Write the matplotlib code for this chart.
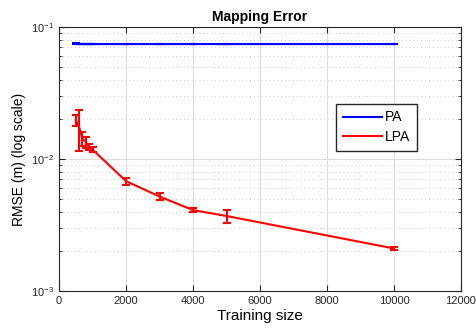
import numpy as np
import matplotlib
matplotlib.use("Agg")
import matplotlib.pyplot as plt
from matplotlib.lines import Line2D

plt.rcParams['font.family'] = ['Liberation Sans', 'DejaVu Sans']

# training sizes and RMSE values
train_size = [500, 600, 700, 800, 900, 1000, 2000, 3000, 4000, 5000, 10000]
pa_rmse = [0.0745, 0.0743, 0.0743, 0.0742, 0.0742, 0.0742, 0.0742, 0.0742, 0.0742, 0.0742, 0.0742]
pa_err = [0.0006, 0.0004, 0.0004, 0.0004, 0.0004, 0.0005, 0.0005, 0.0005, 0.0005, 0.0005, 0.0005]
lpa_rmse = [0.0197, 0.0175, 0.0142, 0.0135, 0.0123, 0.0118, 0.0068, 0.0052, 0.0041, 0.0037, 0.0021]
lpa_err = [0.0018, 0.0060, 0.0017, 0.0013, 0.0007, 0.0005, 0.0004, 0.0003, 0.00015, 0.0004, 0.00006]

fig = plt.figure(figsize=(4.77, 3.29), dpi=100)
ax = fig.add_axes([0.1237, 0.1155, 0.8428, 0.8025])

ax.errorbar(train_size, pa_rmse, yerr=pa_err, color='blue', lw=1.5, capsize=3, elinewidth=1.5, capthick=1.5)
ax.errorbar(train_size, lpa_rmse, yerr=lpa_err, color='red', lw=1.5, capsize=3, elinewidth=1.5, capthick=1.5)

ax.set_yscale('log')
ax.set_xlim(0, 12000)
ax.set_ylim(1e-3, 1e-1)
ax.set_xticks(np.arange(0, 12001, 2000))

ax.grid(True, which='major', color='#dcdcdc', lw=0.8)
ax.grid(True, which='minor', axis='y', color='#c8c8c8', lw=0.7, ls=(0, (1, 3)))
ax.set_axisbelow(True)

ax.tick_params(which='both', direction='in', top=True, right=True, labelsize=8, colors='#262626')
ax.tick_params(which='major', length=4)
ax.tick_params(which='minor', length=2)
for s in ax.spines.values():
    s.set_color('#262626')
    s.set_linewidth(0.8)

ax.set_title('Mapping Error', fontsize=10, fontweight='bold', pad=4)
ax.set_xlabel('Training size', fontsize=11, labelpad=2)
ax.set_ylabel('RMSE (m) (log scale)', fontsize=10, labelpad=4)

handles = [Line2D([], [], color='blue', lw=1.5), Line2D([], [], color='red', lw=1.5)]
ax.legend(handles, ['PA', 'LPA'], loc='upper left', bbox_to_anchor=(0.69, 0.71), fontsize=10,
          fancybox=False, edgecolor='#262626', framealpha=1, handlelength=2.8,
          handletextpad=0.2, borderpad=0.5, labelspacing=0.4, borderaxespad=0)

fig.savefig('out.png', dpi=100)
